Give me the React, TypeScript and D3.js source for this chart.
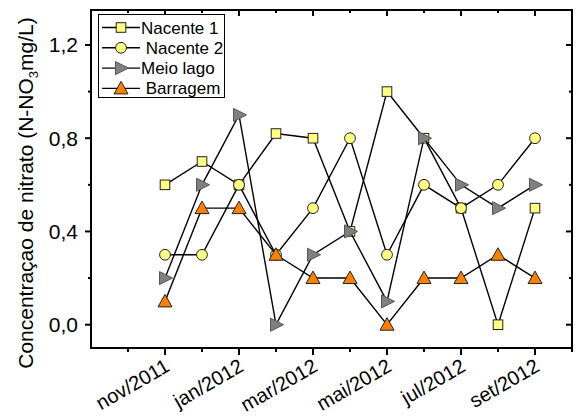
import React from "react";
import * as d3 from "d3";

// Months counted from sep/2011 (index 0); samples run nov/2011 (2) to set/2012 (12)
const months = [2, 3, 4, 5, 6, 7, 8, 9, 10, 11, 12];
const nacente1 = [0.6, 0.7, 0.6, 0.82, 0.8, 0.4, 1.0, 0.8, 0.5, 0.0, 0.5];
const nacente2 = [0.3, 0.3, 0.6, 0.3, 0.5, 0.8, 0.3, 0.6, 0.5, 0.6, 0.8];
const meioLago = [0.2, 0.6, 0.9, 0.0, 0.3, 0.4, 0.1, 0.8, 0.6, 0.5, 0.6];
const barragem = [0.1, 0.5, 0.5, 0.3, 0.2, 0.2, 0.0, 0.2, 0.2, 0.3, 0.2];

const seriesNames = ["Nacente 1", " Nacente 2", "Meio lago", " Barragem"];
const xTickMonths = [2, 4, 6, 8, 10, 12];
const xTickLabels = ["nov/2011", "jan/2012", "mar/2012", "mai/2012", "jul/2012", "set/2012"];
const xMinorMonths = [1, 3, 5, 7, 9, 11, 13];
const yMajor = [0, 0.4, 0.8, 1.2];
const yMinor = [0.2, 0.6, 1.0];

const W = 576;
const H = 418;
const left = 91;
const right = 572;
const top = 10;
const bottom = 348;

const x = d3.scaleLinear().domain([0, 13]).range([left, right]);
const y = d3.scaleLinear().domain([-0.1, 1.35]).range([bottom, top]);

type Shape = "square" | "circle" | "tri-right" | "tri-up";
const shapes: Shape[] = ["square", "circle", "tri-right", "tri-up"];
const fills = ["#ffff80", "#ffff80", "#808080", "#ff7f00"];
const strokes = ["#222", "#222", "#555", "#222"];
const allSeries = [nacente1, nacente2, meioLago, barragem];

function Marker({ shape, cx, cy, fill, stroke }: { shape: Shape; cx: number; cy: number; fill: string; stroke: string }) {
  if (shape === "square") {
    return <rect x={cx - 4.8} y={cy - 4.8} width={9.6} height={9.6} fill={fill} stroke={stroke} strokeWidth={1} />;
  }
  if (shape === "circle") {
    return <circle cx={cx} cy={cy} r={5.4} fill={fill} stroke={stroke} strokeWidth={1} />;
  }
  if (shape === "tri-right") {
    const p = `${cx - 5.5},${cy - 6.5} ${cx + 7.5},${cy} ${cx - 5.5},${cy + 6.5}`;
    return <polygon points={p} fill={fill} stroke={stroke} strokeWidth={1} />;
  }
  const p = `${cx - 7},${cy + 5.5} ${cx},${cy - 7} ${cx + 7},${cy + 5.5}`;
  return <polygon points={p} fill={fill} stroke={stroke} strokeWidth={1} />;
}

export default function App() {
  const line = d3
    .line<[number, number]>()
    .x((d) => x(d[0]))
    .y((d) => y(d[1]));

  const font = "Liberation Sans, Arial, sans-serif";

  return (
    <svg
      width={W}
      height={H}
      style={{ position: "absolute", left: 0, top: 0, background: "#fff" }}
      fontFamily={font}
    >
      {/* series: line first, then markers */}
      {allSeries.map((vals, si) => {
        const pts = months.map((m, i) => [m, vals[i]] as [number, number]);
        return (
          <g key={si}>
            <path d={line(pts) || ""} fill="none" stroke="#000" strokeWidth={1.4} />
            {pts.map((p, i) => (
              <Marker key={i} shape={shapes[si]} cx={x(p[0])} cy={y(p[1])} fill={fills[si]} stroke={strokes[si]} />
            ))}
          </g>
        );
      })}

      {/* frame */}
      <rect x={left} y={top} width={right - left} height={bottom - top} fill="none" stroke="#000" strokeWidth={2} />

      {/* x ticks, bottom (outward) and top (inward) */}
      {xTickMonths.map((m) => (
        <g key={"xM" + m}>
          <line x1={x(m)} x2={x(m)} y1={bottom} y2={bottom + 7} stroke="#000" strokeWidth={2} />
          <line x1={x(m)} x2={x(m)} y1={top} y2={top + 6} stroke="#000" strokeWidth={2} />
        </g>
      ))}
      {xMinorMonths.map((m) => (
        <g key={"xm" + m}>
          <line x1={x(m)} x2={x(m)} y1={bottom} y2={bottom + 4} stroke="#000" strokeWidth={2} />
          <line x1={x(m)} x2={x(m)} y1={top} y2={top + 3} stroke="#000" strokeWidth={2} />
        </g>
      ))}
      {xTickLabels.map((label, i) => (
        <text
          key={"xl" + i}
          transform={`translate(${x(xTickMonths[i]) + 6},${bottom + 22}) rotate(-30)`}
          textAnchor="end"
          fontSize={20}
          fill="#000"
        >
          {label}
        </text>
      ))}

      {/* y ticks, left (outward) and right (inward) */}
      {yMajor.map((v) => (
        <g key={"yM" + v}>
          <line x1={left - 6} x2={left} y1={y(v)} y2={y(v)} stroke="#000" strokeWidth={2} />
          <line x1={right - 6} x2={right} y1={y(v)} y2={y(v)} stroke="#000" strokeWidth={2} />
          <text x={left - 13} y={y(v) + 7.5} textAnchor="end" fontSize={21} fill="#000">
            {d3.format(".1f")(v).replace(".", ",")}
          </text>
        </g>
      ))}
      {yMinor.map((v) => (
        <g key={"ym" + v}>
          <line x1={left - 3} x2={left} y1={y(v)} y2={y(v)} stroke="#000" strokeWidth={2} />
          <line x1={right - 3} x2={right} y1={y(v)} y2={y(v)} stroke="#000" strokeWidth={2} />
        </g>
      ))}

      {/* y axis title */}
      <text transform={`translate(33,193) rotate(-90)`} textAnchor="middle" fontSize={21} fill="#000">
        Concentraçao de nitrato (N-NO
        <tspan dy={5} fontSize={13}>3</tspan>
        <tspan dy={-5}>mg/L)</tspan>
      </text>

      {/* legend */}
      <rect x={98.5} y={14.5} width={126} height={83} fill="#fff" stroke="#000" strokeWidth={1} />
      {seriesNames.map((name, i) => {
        const ly = 27.5 + i * 20.3;
        return (
          <g key={"lg" + i}>
            <line x1={102} x2={140} y1={ly} y2={ly} stroke="#000" strokeWidth={1.4} />
            <Marker shape={shapes[i]} cx={121} cy={ly} fill={fills[i]} stroke={strokes[i]} />
            <text x={141} y={ly + 6} fontSize={17} fill="#000" style={{ whiteSpace: "pre" }}>
              {name}
            </text>
          </g>
        );
      })}
    </svg>
  );
}
